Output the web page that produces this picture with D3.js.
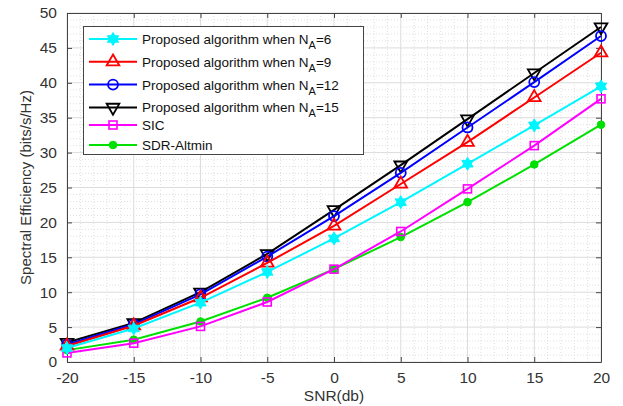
<!DOCTYPE html>
<html>
<head>
<meta charset="utf-8">
<script src="https://cdn.jsdelivr.net/npm/d3@7"></script>
<style>
  body { margin: 0; background: #fff; }
  text { font-family: Arial, "Liberation Sans", sans-serif; }
</style>
</head>
<body>
<div id="plot_area"></div>
<script>
// SNR values (dB)
const snr = [-20, -15, -10, -5, 0, 5, 10, 15, 20]

// spectral efficiency per method
const na6 = [2.0, 4.8, 8.5, 12.9, 17.7, 22.9, 28.4, 33.9, 39.5]
const na9 = [2.3, 5.2, 9.2, 14.2, 19.5, 25.5, 31.5, 37.9, 44.3]
const na12 = [2.5, 5.4, 9.7, 15.1, 20.9, 27.1, 33.6, 40.1, 46.7]
const na15 = [2.8, 5.6, 10.0, 15.5, 21.8, 28.2, 34.8, 41.4, 48.0]
const sic = [1.3, 2.7, 5.1, 8.6, 13.3, 18.7, 24.8, 31.0, 37.7]
const sdr = [1.7, 3.2, 5.8, 9.2, 13.3, 17.9, 22.9, 28.3, 34.0]

const xTicks = [-20, -15, -10, -5, 0, 5, 10, 15, 20]
const yTicks = [0, 5, 10, 15, 20, 25, 30, 35, 40, 45, 50]

const series = [
  { name: 'Proposed algorithm when N', sub: 'A', tail: '=6', values: na6, color: '#00f5ff', marker: 'star' },
  { name: 'Proposed algorithm when N', sub: 'A', tail: '=9', values: na9, color: '#ff0000', marker: 'triUp' },
  { name: 'Proposed algorithm when N', sub: 'A', tail: '=12', values: na12, color: '#0000ff', marker: 'circle' },
  { name: 'Proposed algorithm when N', sub: 'A', tail: '=15', values: na15, color: '#000000', marker: 'triDown' },
  { name: 'SIC', values: sic, color: '#ff00ff', marker: 'square' },
  { name: 'SDR-Altmin', values: sdr, color: '#00e000', marker: 'dot' }
]

const margin = { top: 13, right: 22, bottom: 44, left: 67 },
   svgWidth = 623,
   svgHeight = 406,
   chartWidth = svgWidth - margin.left - margin.right,
   chartHeight = svgHeight - margin.top - margin.bottom

const svg = d3.select('#plot_area').append('svg')
    .attr('width', svgWidth)
    .attr('height', svgHeight)

let chartGroup = svg.append('g')
    .attr('transform', `translate(${margin.left}, ${margin.top})`)

let xScale = d3.scaleLinear().domain([-20, 20]).range([0, chartWidth])
let yScale = d3.scaleLinear().domain([0, 50]).range([chartHeight, 0])

// minor dotted grid
const minorX = d3.range(-20, 21, 1).filter(v => v % 5 != 0)
const minorY = d3.range(0, 51, 1).filter(v => v % 5 != 0)
chartGroup.append('g').selectAll('line').data(minorX).enter().append('line')
    .attr('x1', d => xScale(d)).attr('x2', d => xScale(d))
    .attr('y1', 0).attr('y2', chartHeight)
    .attr('stroke', '#d8d8d8').attr('stroke-width', 0.8).attr('stroke-dasharray', '1,2')
chartGroup.append('g').selectAll('line').data(minorY).enter().append('line')
    .attr('y1', d => yScale(d)).attr('y2', d => yScale(d))
    .attr('x1', 0).attr('x2', chartWidth)
    .attr('stroke', '#d8d8d8').attr('stroke-width', 0.8).attr('stroke-dasharray', '1,2')

// major grid
chartGroup.append('g').selectAll('line').data(xTicks).enter().append('line')
    .attr('x1', d => xScale(d)).attr('x2', d => xScale(d))
    .attr('y1', 0).attr('y2', chartHeight)
    .attr('stroke', '#dcdcdc').attr('stroke-width', 1)
chartGroup.append('g').selectAll('line').data(yTicks).enter().append('line')
    .attr('y1', d => yScale(d)).attr('y2', d => yScale(d))
    .attr('x1', 0).attr('x2', chartWidth)
    .attr('stroke', '#dcdcdc').attr('stroke-width', 1)

// axes (plain hyphen minus like the original)
const fmt = d => String(d)
let xAxis = chartGroup.append('g')
    .attr('transform', `translate(0, ${chartHeight})`)
    .call(d3.axisBottom(xScale).tickValues(xTicks).tickFormat(fmt).tickSizeInner(-5).tickSizeOuter(0).tickPadding(10))
let yAxis = chartGroup.append('g')
    .call(d3.axisLeft(yScale).tickValues(yTicks).tickFormat(fmt).tickSizeInner(-5).tickSizeOuter(0).tickPadding(10))
let xAxisTop = chartGroup.append('g')
    .call(d3.axisTop(xScale).tickValues(xTicks).tickSizeInner(-5).tickSizeOuter(0).tickFormat(''))
let yAxisRight = chartGroup.append('g')
    .attr('transform', `translate(${chartWidth}, 0)`)
    .call(d3.axisRight(yScale).tickValues(yTicks).tickSizeInner(-5).tickSizeOuter(0).tickFormat(''))

chartGroup.selectAll('.domain').attr('stroke', '#444')
chartGroup.selectAll('.tick line').attr('stroke', '#444')
chartGroup.selectAll('.tick text')
    .attr('font-size', 15.5)
    .attr('fill', '#333')
    .attr('font-family', 'Arial, "Liberation Sans", sans-serif')

// axis labels
svg.append('text')
    .attr('x', margin.left + chartWidth / 2)
    .attr('y', 401)
    .attr('text-anchor', 'middle')
    .attr('font-size', 15.5)
    .attr('fill', '#333')
    .text('SNR(db)')

svg.append('text')
    .attr('transform', `translate(31, ${margin.top + chartHeight / 2}) rotate(-90)`)
    .attr('text-anchor', 'middle')
    .attr('font-size', 15)
    .attr('fill', '#333')
    .text('Spectral Efficiency (bits/s/Hz)')

// six pointed star (hexagram) path
function hexagram(r) {
  let pts = []
  for (let k = 0; k < 12; k++) {
    let a = -Math.PI / 2 + k * Math.PI / 6
    let rr = k % 2 == 0 ? r : r * 0.58
    pts.push([rr * Math.cos(a), rr * Math.sin(a)])
  }
  return d3.line()(pts) + 'Z'
}

// marker drawing
function drawMarker(g, type, color, x, y) {
  if (type == 'star') {
    g.append('path')
      .attr('d', hexagram(6.5))
      .attr('transform', `translate(${x}, ${y})`)
      .attr('fill', color).attr('stroke', color).attr('stroke-width', 1)
  } else if (type == 'triUp') {
    g.append('path')
      .attr('d', d3.symbol().type(d3.symbolTriangle).size(70)())
      .attr('transform', `translate(${x}, ${y})`)
      .attr('fill', 'none').attr('stroke', color).attr('stroke-width', 1.8)
  } else if (type == 'triDown') {
    g.append('path')
      .attr('d', d3.symbol().type(d3.symbolTriangle).size(70)())
      .attr('transform', `translate(${x}, ${y}) rotate(180)`)
      .attr('fill', 'none').attr('stroke', color).attr('stroke-width', 1.8)
  } else if (type == 'circle') {
    g.append('circle')
      .attr('cx', x).attr('cy', y).attr('r', 5)
      .attr('fill', 'none').attr('stroke', color).attr('stroke-width', 1.8)
  } else if (type == 'square') {
    g.append('rect')
      .attr('x', x - 4).attr('y', y - 4).attr('width', 8).attr('height', 8)
      .attr('fill', 'none').attr('stroke', color).attr('stroke-width', 1.6)
  } else if (type == 'dot') {
    g.append('circle')
      .attr('cx', x).attr('cy', y).attr('r', 3.8)
      .attr('fill', color).attr('stroke', color)
  }
}

const line = d3.line()
    .x((d, i) => xScale(snr[i]))
    .y(d => yScale(d))

// draw lower series first so top ones sit above
series.slice().reverse().forEach(s => {
  let g = chartGroup.append('g')
  g.append('path')
    .attr('d', line(s.values))
    .attr('fill', 'none')
    .attr('stroke', s.color)
    .attr('stroke-width', 2)
  s.values.forEach((v, i) => drawMarker(g, s.marker, s.color, xScale(snr[i]), yScale(v)))
})

// legend
let legend = svg.append('g')
legend.append('rect')
    .attr('x', 83.5).attr('y', 26.5)
    .attr('width', 280).attr('height', 128)
    .attr('fill', '#fff').attr('stroke', '#444').attr('stroke-width', 1)

series.forEach((s, i) => {
  let y = 39 + i * 22.8
  if (i == 4) y = 125
  if (i == 5) y = 145
  legend.append('line')
    .attr('x1', 89).attr('x2', 137)
    .attr('y1', y).attr('y2', y)
    .attr('stroke', s.color).attr('stroke-width', 2)
  drawMarker(legend, s.marker, s.color, 113, y)
  let t = legend.append('text')
    .attr('x', 142).attr('y', y + 5)
    .attr('font-size', 13.5)
    .attr('fill', '#111')
  t.append('tspan').text(s.name)
  if (s.sub) {
    t.append('tspan').attr('font-size', 11).attr('dy', 5).text(s.sub)
    t.append('tspan').attr('dy', -5).text(s.tail)
  }
})
</script>
</body>
</html>
